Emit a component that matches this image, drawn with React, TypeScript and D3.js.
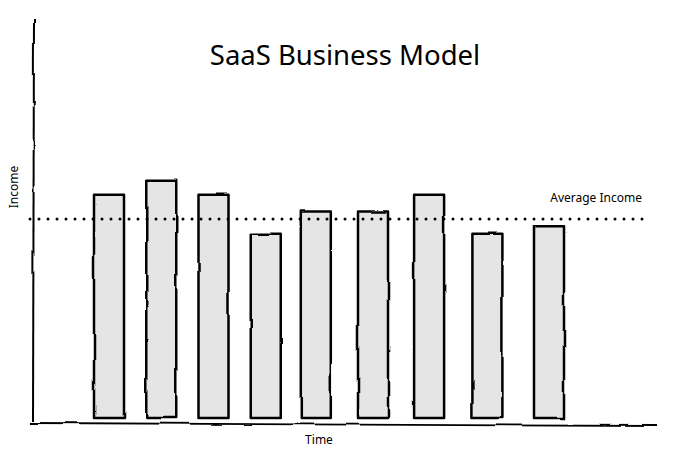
import React from "react";
import * as d3 from "d3";

const periods = [1, 1.95, 2.9, 3.85, 4.76, 5.8, 6.82, 7.88, 9];
const incomes = [12, 12.8, 12, 9.9, 11.1, 11.1, 12, 9.9, 10.3];
const averageIncome = 10.7;
const titleText = "SaaS Business Model";
const xLabel = "Time";
const yLabel = "Income";
const avgLabel = "Average Income";

const W = 694;
const H = 454;
const FONT = "'Noto Sans', Lato, sans-serif";

export default function App() {
  const x = d3.scaleLinear().domain([1, 9]).range([109, 549]);
  const y = d3.scaleLinear().domain([0, 21.5]).range([418, 18]);
  const barW = 30;
  const avgY = y(averageIncome);

  return (
    <svg width={W} height={H} style={{ position: "absolute", left: 0, top: 0, background: "#fff" }}>
      <defs>
        <filter id="wobble" x="-10%" y="-10%" width="120%" height="120%">
          <feTurbulence type="fractalNoise" baseFrequency="0.025" numOctaves="2" seed="3" result="n" />
          <feDisplacementMap in="SourceGraphic" in2="n" scale="3" xChannelSelector="R" yChannelSelector="G" />
        </filter>
      </defs>
      <text x={345} y={65} textAnchor="middle" fontFamily={FONT} fontSize={27.5} fill="#000">
        {titleText}
      </text>
      <g filter="url(#wobble)">
        {periods.map((p, i) => (
          <rect
            key={i}
            x={x(p) - barW / 2}
            y={y(incomes[i])}
            width={barW}
            height={y(0) - y(incomes[i])}
            fill="#e5e5e5"
            stroke="#000"
            strokeWidth={2.5}
            strokeLinejoin="round"
          />
        ))}
        <line x1={34} y1={18} x2={33} y2={421} stroke="#000" strokeWidth={2} />
        <line x1={30} y1={423} x2={657} y2={426} stroke="#000" strokeWidth={1.8} />
      </g>
      <line
        x1={30}
        y1={avgY}
        x2={643}
        y2={avgY}
        stroke="#000"
        strokeWidth={3}
        strokeLinecap="round"
        strokeDasharray="0 9"
      />
      <text x={642} y={202} textAnchor="end" fontFamily={FONT} fontSize={12} fill="#000">
        {avgLabel}
      </text>
      <text x={319} y={444} textAnchor="middle" fontFamily={FONT} fontSize={12} fill="#000">
        {xLabel}
      </text>
      <text
        transform={`translate(18, 187) rotate(-90)`}
        textAnchor="middle"
        fontFamily={FONT}
        fontSize={12}
        fill="#000"
      >
        {yLabel}
      </text>
    </svg>
  );
}
